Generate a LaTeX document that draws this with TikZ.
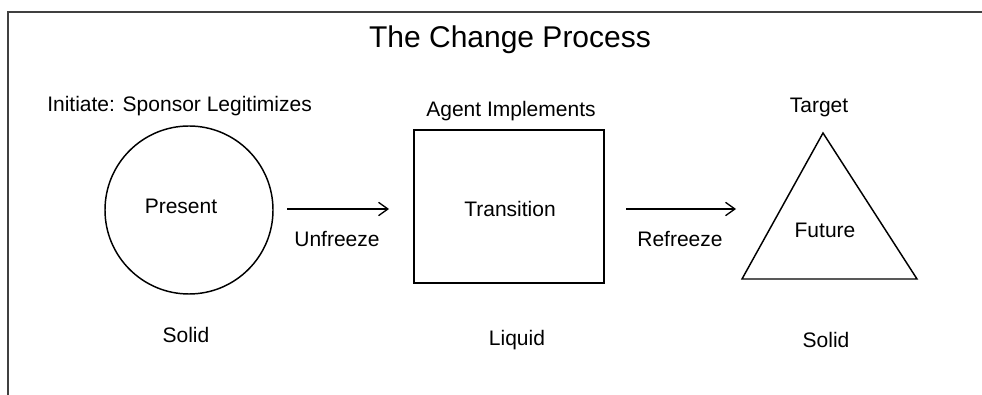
\documentclass[tikz,border=0pt]{standalone}
\usepackage{fontspec}
\setmainfont{Liberation Sans}
\usetikzlibrary{arrows.meta,calc}
\begin{document}
\begin{tikzpicture}[x=0.75pt,y=-0.75pt,
  lbl/.style={anchor=base,inner sep=0pt,font=\fontsize{15.75}{18}\selectfont},
  headline/.style={anchor=base,inner sep=0pt,font=\fontsize{22.5}{26}\selectfont},
  shape line/.style={draw=black,line width=1.1pt,inner sep=0pt,outer sep=0pt},
  stage arrow/.style={draw=black,line width=1pt,
    -{Straight Barb[length=7pt,width=10pt,line width=1pt]}},
  frame/.style={draw=black!75,line width=1.5pt}]
\useasboundingbox (0,0) rectangle (982,395);

% page frame (top and left edges)
\draw[frame] (982,12) -- (8,12) -- (8,395);

% heading
\node[headline] (title) at (510,48) {The Change Process};

% the three stages
\node[shape line,circle,minimum size=126pt] (present) at (189,210) {};
\node[shape line,rectangle,minimum width=142.5pt,minimum height=114.75pt] (trans) at (509,206.5) {};
\coordinate (apex) at (823,133);
\coordinate (baseL) at (742,279);
\coordinate (baseR) at (917,279);
\coordinate (futL) at (781,209);
\draw[shape line,line join=miter] (apex) -- (baseL) -- (baseR) -- cycle;

% texts inside the shapes
\node[lbl] (presentTxt) at (181,214) {Present};
\node[lbl] (transTxt) at (510,217) {Transition};
\node[lbl] (futureTxt) at (825,238) {Future};

% texts above the shapes
\node[lbl,anchor=base west] (initiate) at (47,112) {Initiate: Sponsor Legitimizes};
\node[lbl] (agent) at (511,117) {Agent Implements};
\node[lbl] (target) at (819,113) {Target};

% states below the shapes
\node[lbl] (solidA) at (186,343) {Solid};
\node[lbl] (liquid) at (517,346) {Liquid};
\node[lbl] (solidB) at (826,348) {Solid};

% transitions between stages
\draw[stage arrow,shorten <=10.5pt,shorten >=18.75pt]
  ($(present.east)+(0,-1)$) -- ($(present.east -| trans.west)+(0,-1)$);
\draw[stage arrow,shorten <=16.5pt,shorten >=33.75pt]
  ($(trans.east)+(0,2.5)$) -- (futL);
\node[lbl] (unfreeze) at (337,247) {Unfreeze};
\node[lbl] (refreeze) at (680,247) {Refreeze};
\end{tikzpicture}
\end{document}
